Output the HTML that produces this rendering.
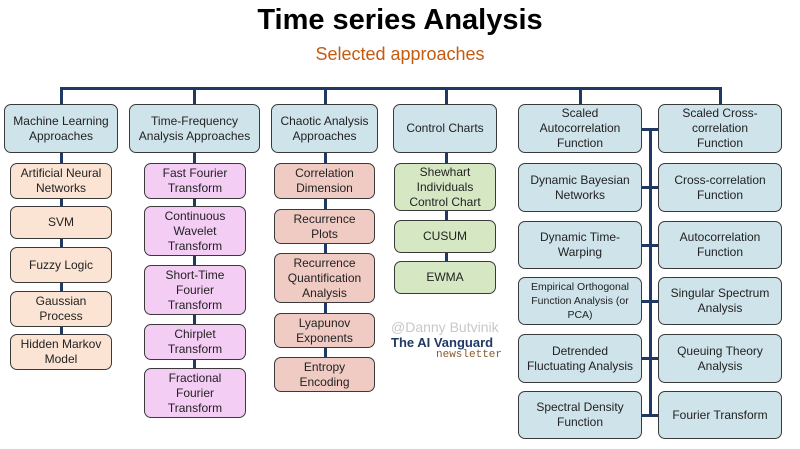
<!DOCTYPE html>
<html><head><meta charset="utf-8"><style>
body{margin:0;width:800px;height:449px;background:#fff;position:relative;overflow:hidden;font-family:"Liberation Sans",sans-serif}
.b{position:absolute;box-sizing:border-box;border:1.5px solid #3a3a3a;border-radius:7px;display:flex;align-items:center;justify-content:center;text-align:center;font-size:12px;line-height:15px;color:#222}
.c{background:#cfe3ea}.p{background:#fbe4d4}.k{background:#f4cdf5}.s{background:#f0cbc3}.g{background:#d6e8c3}
.l{position:absolute;background:#1f3864}
</style></head><body>
<div style="position:absolute;left:0;width:800px;top:4px;text-align:center;font-size:29px;font-weight:bold;color:#000">Time series Analysis</div>
<div style="position:absolute;left:0;width:800px;top:44px;text-align:center;font-size:18px;color:#c55a11">Selected approaches</div>
<!-- lines -->
<div class="l" style="left:60px;top:87px;width:661px;height:3px"></div>
<div class="l" style="left:60px;top:87px;width:3px;height:280px"></div>
<div class="l" style="left:193px;top:87px;width:3px;height:320px"></div>
<div class="l" style="left:324px;top:87px;width:3px;height:290px"></div>
<div class="l" style="left:445px;top:87px;width:3px;height:190px"></div>
<div class="l" style="left:579px;top:87px;width:3px;height:20px"></div>
<div class="l" style="left:719px;top:87px;width:3px;height:20px"></div>
<div class="l" style="left:649px;top:128px;width:3px;height:288px"></div>
<div class="l" style="left:640px;top:128px;width:20px;height:3px"></div>
<div class="l" style="left:640px;top:186px;width:20px;height:3px"></div>
<div class="l" style="left:640px;top:244px;width:20px;height:3px"></div>
<div class="l" style="left:640px;top:300px;width:20px;height:3px"></div>
<div class="l" style="left:640px;top:357px;width:20px;height:3px"></div>
<div class="l" style="left:640px;top:414px;width:20px;height:3px"></div>
<!-- categories -->
<div class="b c" style="left:4px;top:104px;width:114px;height:49px">Machine Learning<br>Approaches</div>
<div class="b c" style="left:129px;top:104px;width:131px;height:49px">Time-Frequency<br>Analysis Approaches</div>
<div class="b c" style="left:271px;top:104px;width:107px;height:49px">Chaotic Analysis<br>Approaches</div>
<div class="b c" style="left:393px;top:104px;width:104px;height:49px">Control Charts</div>
<div class="b c" style="left:518px;top:104px;width:124px;height:49px">Scaled<br>Autocorrelation<br>Function</div>
<div class="b c" style="left:658px;top:104px;width:124px;height:49px">Scaled Cross-<br>correlation<br>Function</div>
<!-- ML -->
<div class="b p" style="left:10px;top:163px;width:102px;height:36px">Artificial Neural<br>Networks</div>
<div class="b p" style="left:10px;top:206px;width:102px;height:33px">SVM</div>
<div class="b p" style="left:10px;top:247px;width:102px;height:36px">Fuzzy Logic</div>
<div class="b p" style="left:10px;top:291px;width:102px;height:36px">Gaussian<br>Process</div>
<div class="b p" style="left:10px;top:334px;width:102px;height:36px">Hidden Markov<br>Model</div>
<!-- TF -->
<div class="b k" style="left:144px;top:163px;width:102px;height:36px">Fast Fourier<br>Transform</div>
<div class="b k" style="left:144px;top:206px;width:102px;height:50px">Continuous<br>Wavelet<br>Transform</div>
<div class="b k" style="left:144px;top:265px;width:102px;height:50px">Short-Time<br>Fourier<br>Transform</div>
<div class="b k" style="left:144px;top:324px;width:102px;height:36px">Chirplet<br>Transform</div>
<div class="b k" style="left:144px;top:368px;width:102px;height:50px">Fractional<br>Fourier<br>Transform</div>
<!-- Chaotic -->
<div class="b s" style="left:274px;top:163px;width:101px;height:36px">Correlation<br>Dimension</div>
<div class="b s" style="left:274px;top:209px;width:101px;height:35px">Recurrence<br>Plots</div>
<div class="b s" style="left:274px;top:253px;width:101px;height:50px">Recurrence<br>Quantification<br>Analysis</div>
<div class="b s" style="left:274px;top:313px;width:101px;height:35px">Lyapunov<br>Exponents</div>
<div class="b s" style="left:274px;top:357px;width:101px;height:35px">Entropy<br>Encoding</div>
<!-- Control -->
<div class="b g" style="left:394px;top:163px;width:102px;height:48px">Shewhart<br>Individuals<br>Control Chart</div>
<div class="b g" style="left:394px;top:220px;width:102px;height:33px">CUSUM</div>
<div class="b g" style="left:394px;top:261px;width:102px;height:33px">EWMA</div>
<!-- right -->
<div class="b c" style="left:518px;top:163px;width:124px;height:49px">Dynamic Bayesian<br>Networks</div>
<div class="b c" style="left:658px;top:163px;width:124px;height:49px">Cross-correlation<br>Function</div>
<div class="b c" style="left:518px;top:221px;width:124px;height:48px">Dynamic Time-<br>Warping</div>
<div class="b c" style="left:658px;top:221px;width:124px;height:48px">Autocorrelation<br>Function</div>
<div class="b c" style="left:518px;top:277px;width:124px;height:48px;font-size:10.5px;line-height:14px">Empirical Orthogonal<br>Function Analysis (or<br>PCA)</div>
<div class="b c" style="left:658px;top:277px;width:124px;height:48px">Singular Spectrum<br>Analysis</div>
<div class="b c" style="left:518px;top:334px;width:124px;height:49px">Detrended<br>Fluctuating Analysis</div>
<div class="b c" style="left:658px;top:334px;width:124px;height:49px">Queuing Theory<br>Analysis</div>
<div class="b c" style="left:518px;top:391px;width:124px;height:48px">Spectral Density<br>Function</div>
<div class="b c" style="left:658px;top:391px;width:124px;height:48px">Fourier Transform</div>
<!-- watermark -->
<div style="position:absolute;left:391px;top:319px;font-size:14px;color:#c8c8c8">@Danny Butvinik</div>
<div style="position:absolute;left:391px;top:335px;font-size:13px;font-weight:bold;color:#1f3864">The AI Vanguard</div>
<div style="position:absolute;left:436px;top:349px;font-size:11px;font-family:'Liberation Mono',monospace;color:#8a5a2b">newsletter</div>
</body></html>
